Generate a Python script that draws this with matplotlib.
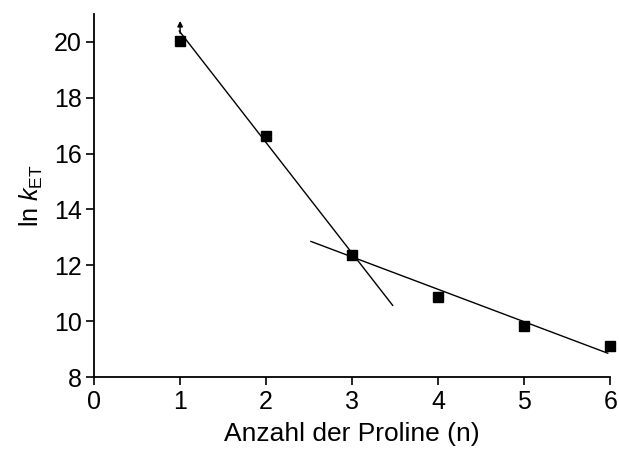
import matplotlib.pyplot as plt
import numpy as np

plt.rcParams['font.family'] = ['Liberation Sans', 'DejaVu Sans']
plt.rcParams['mathtext.fontset'] = 'custom'
plt.rcParams['mathtext.it'] = 'Liberation Sans:italic'
plt.rcParams['mathtext.rm'] = 'Liberation Sans'

# data
n_prolines = [1, 2, 3, 4, 5, 6]
ln_ket = [20.03, 16.62, 12.36, 10.87, 9.83, 9.12]

# fitted lines: slope, intercept, x range
fit1 = (-3.96, 24.31, 0.99, 3.47)
fit2 = (-1.16, 15.78, 2.52, 5.97)

fig = plt.figure(figsize=(6.19, 4.5), dpi=100)
ax = fig.add_axes([0.152, 0.162, 0.834, 0.807])

for slope, icpt, x0, x1 in (fit1, fit2):
    xs = np.array([x0, x1])
    ax.plot(xs, slope * xs + icpt, color='black', lw=1)

ax.plot(n_prolines, ln_ket, 's', color='black', ms=7, clip_on=False)

# arrow on first point (lower limit)
ax.annotate('', xy=(1, 20.85), xytext=(1, 20.2),
            arrowprops=dict(arrowstyle='-|>', color='black', lw=1,
                            mutation_scale=8))

ax.set_xlim(0, 6)
ax.set_ylim(8, 21)
ax.set_xticks(range(0, 7))
ax.set_yticks(range(8, 21, 2))
ax.spines['top'].set_visible(False)
ax.spines['right'].set_visible(False)
ax.spines['left'].set_linewidth(1.3)
ax.spines['bottom'].set_linewidth(1.3)
ax.tick_params(direction='out', length=6, width=1.2, labelsize=18, pad=3)

ax.set_xlabel('Anzahl der Proline (n)', fontsize=19, labelpad=6)
ax.set_ylabel(r'ln $k_{\mathrm{ET}}$', fontsize=18, labelpad=6)

fig.savefig('out.png', dpi=100)
